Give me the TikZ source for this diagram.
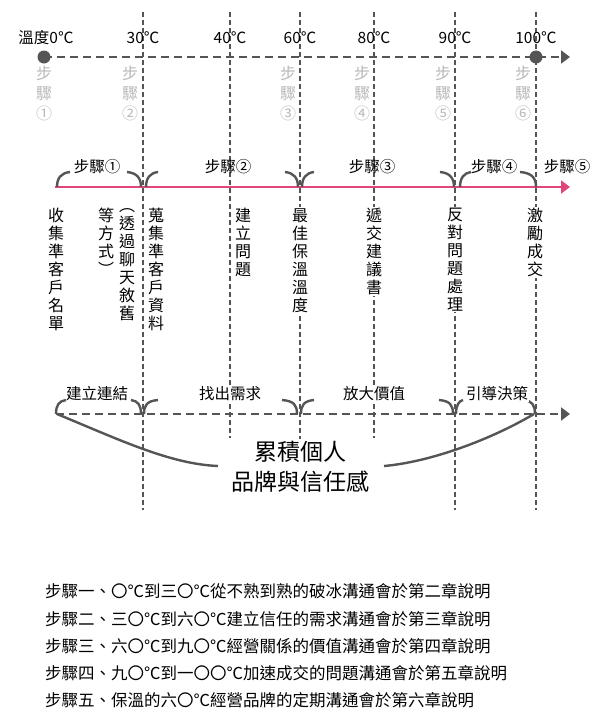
\documentclass[tikz,border=0pt]{standalone}
\usepackage{fontspec}
\setmainfont{Noto Sans CJK TC}
\usetikzlibrary{arrows.meta}
\definecolor{dk}{HTML}{555555}
\definecolor{lg}{HTML}{B8B8B8}
\definecolor{pk}{HTML}{E0457B}
\begin{document}
\begin{tikzpicture}[x=1pt,y=-1pt,
 axis/.style={dk,line width=2.6pt,dash pattern=on 8pt off 5pt,-{Triangle[length=9pt,width=13pt]}},
 vl/.style={dk,line width=1.3pt,dash pattern=on 5pt off 3pt},
 deg/.style={font=\fontsize{15.5}{17}\selectfont,inner sep=1pt},
 gv/.style={lg,font=\fontsize{16}{20}\selectfont,align=center,inner sep=0pt,anchor=north},
 vt/.style={font=\fontsize{16}{18}\selectfont,align=center,inner sep=1pt,anchor=north,fill=white},
 lab/.style={font=\fontsize{15.5}{17}\selectfont,inner sep=1pt,fill=white},
 br/.style={line width=2.4pt,dk},
 big/.style={line width=2.4pt,dk},
 note/.style={font=\fontsize{16.5}{18}\selectfont,anchor=west,inner sep=0pt}]
\useasboundingbox (0,0) rectangle (600,721);
% vertical lines
\foreach \x/\e in {143/510,230/438,300/455,374/438,455/510,536/510}
  \draw[vl] (\x,12) -- (\x,\e);
% top axis
\draw[axis] (44,57) -- (570,57);
\fill[dk] (44,57) circle (6.5pt);
\fill[dk] (536,57) circle (6.5pt);
\node[deg] (t0) at (46,38) {溫度0℃};
\foreach \x/\t in {143/30,230/40,300/60,374/80,455/90,536/100}
  \node[deg] at (\x,38) {\t℃};
\foreach \x/\n in {44/①,130/②,288/③,362/④,443/⑤,523/⑥}
  \node[gv] at (\x,66) {步\\驟\\\n};
% pink axis
\draw[pk,line width=2.6pt,-{Triangle[length=9pt,width=13pt]}] (55,187) -- (570,187);
\foreach \a/\b in {57/70,146/158,302/314,460/471}
  \draw[br] (\a,187) .. controls (\a,178) and (\a+4,173) .. (\b,172);
\foreach \a/\b in {127/141,285/298,440/454,520/536}
  \draw[br] (\a,172) .. controls (\b-4,173) and (\b,178) .. (\b,187);
\node[lab,fill=none] at (97,167) {步驟①};
\node[lab,fill=none] at (228,167) {步驟②};
\node[lab,fill=none] at (372,167) {步驟③};
\node[lab,fill=none] at (494,167) {步驟④};
\node[lab,fill=none] at (567,167) {步驟⑤};
% vertical texts
\node[vt,fill=none] at (56,207) {收\\集\\準\\客\\戶\\名\\單};
\node[vt,fill=none] at (106,207) {等\\方\\式\\︶};
\node[vt,fill=none] at (127,207) {︵\\透\\過\\聊\\天\\敘\\舊};
\node[vt,fill=none] at (156,207) {蒐\\集\\準\\客\\戶\\資\\料};
\node[vt,fill=none] at (243,207) {建\\立\\問\\題};
\node[vt] at (300,207) {最\\佳\\保\\溫\\溫\\度};
\node[vt] at (374,207) {遞\\交\\建\\議\\書};
\node[vt] at (455,207) {反\\對\\問\\題\\處\\理};
\node[vt] at (535,207) {激\\勵\\成\\交};
% bottom axis
\draw[axis] (56,414) -- (570,414);
\foreach \a/\b in {56/66,144/158,301/314,456/463}
  \draw[br] (\a,414) .. controls (\a,405) and (\a+3,401) .. (\b,400);
\foreach \a/\b in {131/141,282/297,439/453,524/535}
  \draw[br] (\a,400) .. controls (\b-3,401) and (\b,405) .. (\b,414);
\node[lab,fill=none] at (97,394) {建立連結};
\node[lab] at (230,394) {找出需求};
\node[lab] at (374,394) {放大價值};
\node[lab] at (497,394) {引導決策};
\draw[big] (57,414) .. controls (120,440) and (170,464) .. (218,466);
\draw[big] (384,466) .. controls (430,462) and (490,440) .. (534,414);
\node[font=\fontsize{23}{30}\selectfont,align=center,fill=white,inner sep=2pt] (c) at (300,467) {累積個人\\品牌與信任感};
% notes
\node[note] at (45,591) {步驟一、〇℃到三〇℃從不熟到熟的破冰溝通會於第二章說明};
\node[note] at (45,619) {步驟二、三〇℃到六〇℃建立信任的需求溝通會於第三章說明};
\node[note] at (45,646) {步驟三、六〇℃到九〇℃經營關係的價值溝通會於第四章說明};
\node[note] at (45,673) {步驟四、九〇℃到一〇〇℃加速成交的問題溝通會於第五章說明};
\node[note] at (45,700) {步驟五、保溫的六〇℃經營品牌的定期溝通會於第六章說明};
\end{tikzpicture}
\end{document}
